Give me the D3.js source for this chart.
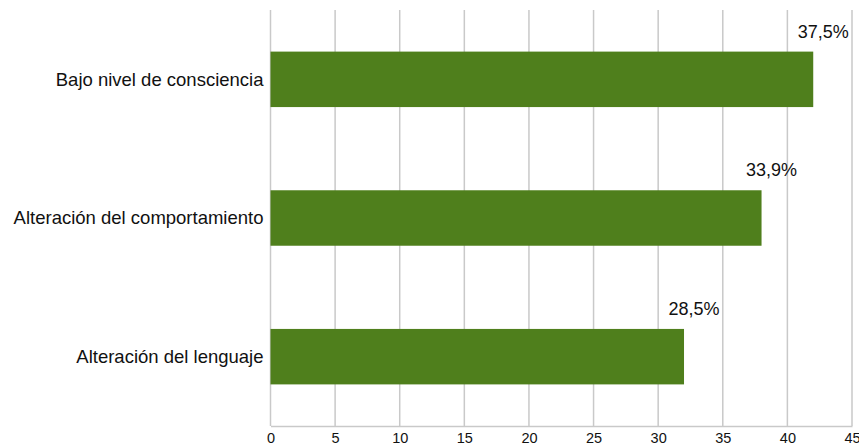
<!DOCTYPE html>
<html><head><meta charset="utf-8">
<script src="https://cdn.jsdelivr.net/npm/d3@7"></script>
<style>html,body{margin:0;padding:0;background:#fff;}svg{display:block;font-family:"Liberation Sans",Arial,Helvetica,sans-serif;}</style>
</head><body>
<svg id="chart" width="859" height="446"></svg>
<script>
const categories = ["Bajo nivel de consciencia", "Alteración del comportamiento", "Alteración del lenguaje"];
const values = [42, 38, 32];
const percentLabels = ["37,5%", "33,9%", "28,5%"];
const xTicks = [0, 5, 10, 15, 20, 25, 30, 35, 40, 45];

(function () {
const svg = d3.select("#chart");
const mLeft = 270.5, mRight = 852, mTop = 10, mBottom = 426;

const x = d3.scaleLinear().domain([0, 45]).range([mLeft, mRight]);
const y = d3.scaleBand().domain(categories).range([mTop, mBottom]).paddingInner(0.6).paddingOuter(0.3);

// gridlines
svg.append("g").selectAll("line").data(xTicks).join("line")
  .attr("x1", d => x(d)).attr("x2", d => x(d))
  .attr("y1", mTop).attr("y2", mBottom)
  .attr("stroke", "#c9c9c9").attr("stroke-width", 1.5);

// bottom axis
const xAxis = d3.axisBottom(x).tickValues(xTicks).tickSize(0).tickPadding(7).tickFormat(d3.format("d"));
const gx = svg.append("g").attr("transform", `translate(0,${mBottom})`).call(xAxis);
gx.select(".domain").attr("stroke", "#c9c9c9").attr("stroke-width", 1.5);
gx.selectAll("text").attr("font-size", 14.5).attr("fill", "#111").attr("font-family", '"Liberation Sans",Arial,sans-serif');

// bars
svg.append("g").selectAll("rect").data(values).join("rect")
  .attr("x", x(0)).attr("y", (d, i) => y(categories[i]))
  .attr("width", d => x(d) - x(0)).attr("height", y.bandwidth())
  .attr("fill", "#4f7f1c");

// category labels
svg.append("g").selectAll("text").data(categories).join("text")
  .attr("x", x(0) - 7).attr("y", d => y(d) + y.bandwidth() / 2)
  .attr("dy", "0.35em").attr("text-anchor", "end")
  .attr("font-size", 18.5).attr("fill", "#111").text(d => d);

// value labels
svg.append("g").selectAll("text").data(values).join("text")
  .attr("x", d => x(d) + 10).attr("y", (d, i) => y(categories[i]) - 14)
  .attr("text-anchor", "middle")
  .attr("font-size", 18).attr("fill", "#111").text((d, i) => percentLabels[i]);
})();
</script>
</body></html>
